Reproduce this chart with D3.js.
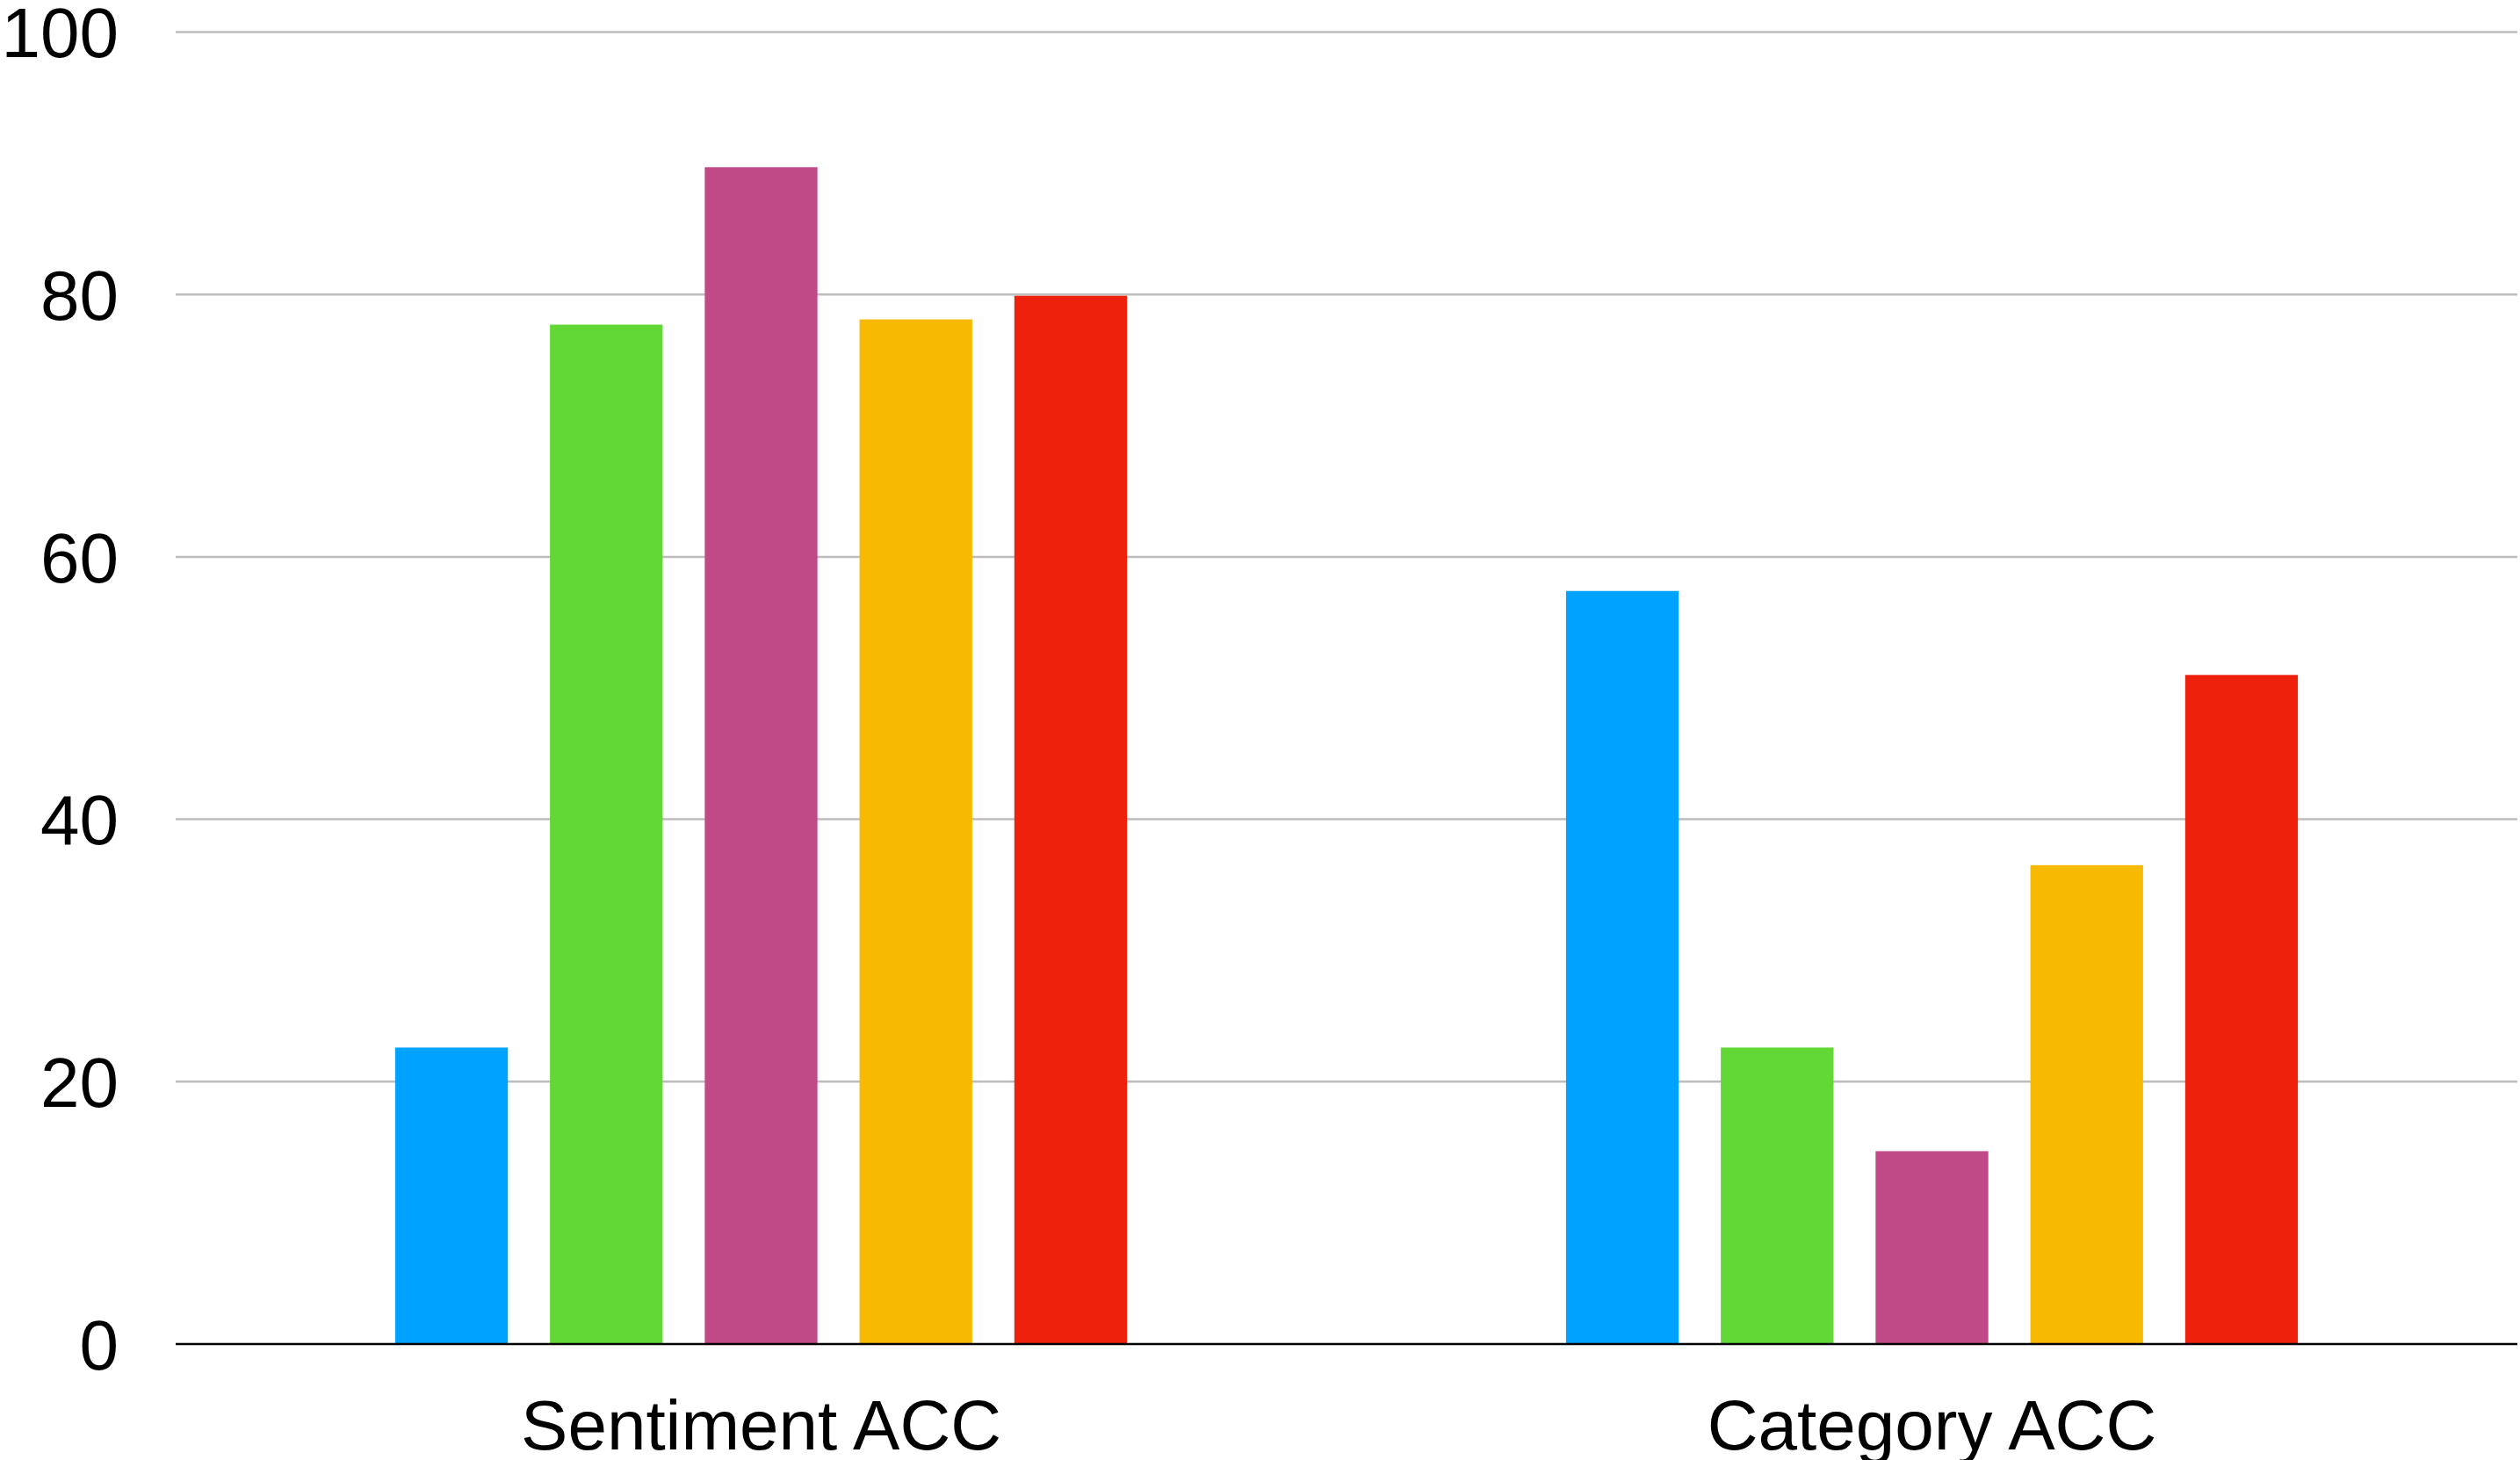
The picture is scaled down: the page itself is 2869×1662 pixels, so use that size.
<!DOCTYPE html>
<html>
<head>
<meta charset="utf-8">
<script src="https://cdn.jsdelivr.net/npm/d3@7/dist/d3.min.js"></script>
<style>
  html, body { margin: 0; padding: 0; background: #ffffff; }
  svg { display: block; }
  text { font-family: "Liberation Sans", Arial, Helvetica, sans-serif; fill: #000; }
</style>
</head>
<body>
<svg id="chart" width="2869" height="1662"></svg>
<script>
// ---- data ----
const categories = ["Sentiment ACC", "Category ACC"];
const seriesNames = ["Series 1", "Series 2", "Series 3", "Series 4", "Series 5"];
const seriesColors = ["#00A2FF", "#61D836", "#C04A87", "#F7BA00", "#EE220C"];
const series1 = [22.6, 57.4];
const series2 = [77.7, 22.6];
const series3 = [89.7, 14.7];
const series4 = [78.1, 36.5];
const series5 = [79.9, 51.0];
const yTicks = [0, 20, 40, 60, 80, 100];

const seriesValues = [series1, series2, series3, series4, series5];

// ---- layout ----
const W = 2869, H = 1662;
const margin = { left: 200, right: 3, top: 36.5, bottom: 132 };
const innerW = W - margin.left - margin.right;
const yZero = H - margin.bottom;

const svg = d3.select("#chart");

const x0 = d3.scaleBand().domain(categories).range([margin.left, W - margin.right]).padding(0);
const x1 = d3.scaleBand().domain(seriesNames).range([0, x0.bandwidth()])
  .paddingInner(0.272).paddingOuter(1.418);
const y = d3.scaleLinear().domain([0, 100]).range([yZero, margin.top]);
const color = d3.scaleOrdinal().domain(seriesNames).range(seriesColors);

// gridlines
svg.append("g").selectAll("line")
  .data(yTicks.filter(d => d !== 0))
  .join("line")
  .attr("x1", margin.left).attr("x2", W - margin.right)
  .attr("y1", d => y(d)).attr("y2", d => y(d))
  .attr("stroke", "#BDBDBD").attr("stroke-width", 2.5);

// bars
const rows = [];
categories.forEach((c, ci) => {
  seriesNames.forEach((s, si) => rows.push({ cat: c, ser: s, val: seriesValues[si][ci] }));
});
svg.append("g").selectAll("rect")
  .data(rows)
  .join("rect")
  .attr("x", d => x0(d.cat) + x1(d.ser))
  .attr("width", x1.bandwidth())
  .attr("y", d => y(d.val))
  .attr("height", d => y(0) - y(d.val))
  .attr("fill", d => color(d.ser));

// zero baseline
svg.append("line")
  .attr("x1", margin.left).attr("x2", W - margin.right)
  .attr("y1", y(0)).attr("y2", y(0))
  .attr("stroke", "#000").attr("stroke-width", 2.5);

// y tick labels
svg.append("g").selectAll("text")
  .data(yTicks)
  .join("text")
  .attr("x", 135)
  .attr("y", d => y(d))
  .attr("dy", "0.36em")
  .attr("text-anchor", "end")
  .attr("font-size", 80)
  .text(d => d);

// x category labels
svg.append("g").selectAll("text")
  .data(categories)
  .join("text")
  .attr("x", d => x0(d) + x0.bandwidth() / 2)
  .attr("y", 1650)
  .attr("text-anchor", "middle")
  .attr("font-size", 80)
  .text(d => d);
</script>
</body>
</html>
